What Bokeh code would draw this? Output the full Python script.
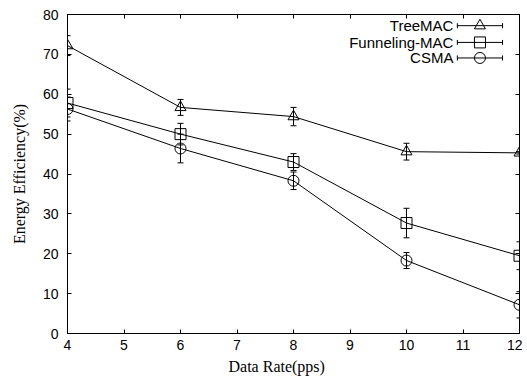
from bokeh.plotting import figure
from bokeh.models import (Range1d, LinearAxis, FixedTicker, Whisker, TeeHead,
                          ColumnDataSource, Label, Title)
from bokeh.embed import file_html
from bokeh.resources import INLINE

# ---- data ----
rates = [4, 6, 8, 10, 12]
series_names = ["TreeMAC", "Funneling-MAC", "CSMA"]
treemac = [72.2, 56.7, 54.4, 45.6, 45.3]
treemac_err = [2.5, 2.0, 2.3, 2.1, 0.3]
funneling = [57.8, 50.0, 43.0, 27.7, 19.5]
funneling_err = [3.5, 2.7, 2.1, 3.7, 3.5]
csma = [56.3, 46.4, 38.3, 18.3, 7.2]
csma_err = [3.0, 3.6, 2.2, 2.0, 3.3]
markers = ["triangle", "square", "circle"]
x_ticks = [4, 5, 6, 7, 8, 9, 10, 11, 12]
y_ticks = [0, 10, 20, 30, 40, 50, 60, 70, 80]
x_title = "Data Rate(pps)"
y_title = "Energy Efficiency(%)"

SANS = "Liberation Sans"
SERIF = "Liberation Serif"

p = figure(width=522, height=380, output_backend="svg", toolbar_location=None,
           x_range=Range1d(4, 12), y_range=Range1d(0, 80),
           min_border_left=67, min_border_right=3, min_border_top=14,
           min_border_bottom=47)
p.background_fill_color = "white"
p.border_fill_color = "white"
p.grid.visible = False
p.outline_line_color = "black"
p.outline_line_width = 1


def style_axis(ax, ticks, show_labels=True):
    ax.ticker = FixedTicker(ticks=ticks)
    ax.axis_line_color = "black"
    ax.axis_line_width = 1
    ax.major_tick_line_color = "black"
    ax.major_tick_in = 4
    ax.major_tick_out = 0
    ax.minor_tick_line_color = None
    ax.major_label_text_font = SANS
    ax.major_label_text_font_size = "14px"
    ax.major_label_text_color = "black"
    if not show_labels:
        ax.major_label_overrides = {t: "" for t in ticks}
        ax.major_label_standoff = 0


style_axis(p.xaxis[0], x_ticks)
style_axis(p.yaxis[0], y_ticks)
p.xaxis[0].major_label_standoff = 6
p.yaxis[0].major_label_standoff = 9
p.yaxis[0].axis_label = y_title
p.yaxis[0].axis_label_text_font = SERIF
p.yaxis[0].axis_label_text_font_size = "16px"
p.yaxis[0].axis_label_text_font_style = "normal"
p.yaxis[0].axis_label_text_color = "black"
p.yaxis[0].axis_label_standoff = 12

# x title (gnuplot places it slightly left of the frame centre)
p.add_layout(Title(text=x_title, align="left", offset=161, standoff=7,
                   text_font=SERIF, text_font_size="16px",
                   text_font_style="normal", text_color="black"), "below")

top_ax = LinearAxis()
style_axis(top_ax, x_ticks, show_labels=False)
p.add_layout(top_ax, "above")
right_ax = LinearAxis()
style_axis(right_ax, y_ticks, show_labels=False)
p.add_layout(right_ax, "right")

values = [treemac, funneling, csma]
errors = [treemac_err, funneling_err, csma_err]

for name, vals, errs, mk in zip(series_names, values, errors, markers):
    src = ColumnDataSource(dict(
        x=rates, y=vals,
        lo=[v - e for v, e in zip(vals, errs)],
        hi=[v + e for v, e in zip(vals, errs)]))
    p.line("x", "y", source=src, line_color="black", line_width=1)
    w = Whisker(base="x", lower="lo", upper="hi", source=src,
                line_color="black", line_width=1,
                upper_head=TeeHead(size=6, line_color="black", line_width=1),
                lower_head=TeeHead(size=6, line_color="black", line_width=1))
    p.add_layout(w)
    p.scatter("x", "y", source=src, marker=mk, size=11,
              fill_color=None, line_color="black", line_width=1)

# ---- legend (gnuplot style: text then sample on the right) ----
leg_y = [77.2, 73.0, 69.1]
leg_text_x = 10.83
leg_x0, leg_x1, leg_xm = 10.90, 11.70, 11.30
for name, mk, ly in zip(series_names, markers, leg_y):
    p.add_layout(Label(x=leg_text_x, y=ly, text=name, text_align="right",
                       text_baseline="middle", text_font=SANS,
                       text_font_size="15px", text_color="black"))
    lsrc = ColumnDataSource(dict(base=[ly], lower=[leg_x0], upper=[leg_x1],
                                 xm=[leg_xm]))
    p.add_layout(Whisker(base="base", lower="lower", upper="upper",
                         dimension="width", source=lsrc,
                         line_color="black", line_width=1,
                         upper_head=TeeHead(size=5, line_color="black", line_width=1),
                         lower_head=TeeHead(size=5, line_color="black", line_width=1)))
    p.scatter("xm", "base", source=lsrc, marker=mk, size=11,
              fill_color=None, line_color="black", line_width=1)

open("out.html", "w").write(file_html(p, INLINE))
